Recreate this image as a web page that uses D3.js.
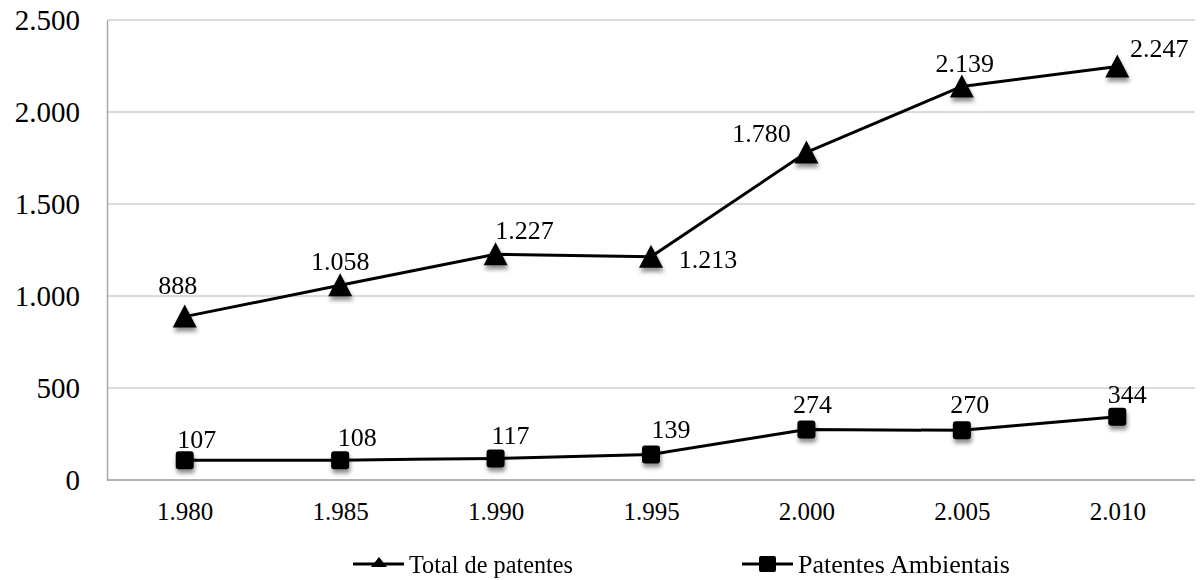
<!DOCTYPE html>
<html>
<head>
<meta charset="utf-8">
<script src="https://cdn.jsdelivr.net/npm/d3@7"></script>
<style>
  html, body { margin: 0; padding: 0; background: #fff; }
  svg { display: block; }
  text { font-family: "Liberation Serif", "Times New Roman", serif; fill: #000; }
</style>
</head>
<body>
<svg id="chart" width="1201" height="580"></svg>
<script>
// ---- data ----
const years = ["1.980", "1.985", "1.990", "1.995", "2.000", "2.005", "2.010"];
const totalPatentes = [888, 1058, 1227, 1213, 1780, 2139, 2247];
const patentesAmbientais = [107, 108, 117, 139, 274, 270, 344];
const yTicks = [0, 500, 1000, 1500, 2000, 2500];
const seriesNames = ["Total de patentes", "Patentes Ambientais"];

// label placement (relative to each marker), kept separate from data
const totalLabelDx = [-7, 0, 29, 57, -45, 3, 42];
const totalLabelDy = [-23, -15, -15, 11, -10, -14, -10];
const ambLabelDx = [12, 17, 15, 20, 6, 8, 10];
const ambLabelDy = [-12, -14, -14, -16, -17, -17, -14];

const fmt = d3.formatLocale({ decimal: ",", thousands: ".", grouping: [3], currency: ["", ""] }).format(",d");

const svg = d3.select("#chart");
const margin = { left: 107, right: 6, top: 20, bottom: 100 };
const W = 1201, H = 580;
const x = d3.scalePoint().domain(years).range([margin.left, W - margin.right]).padding(0.5);
const y = d3.scaleLinear().domain([0, 2500]).range([H - margin.bottom, margin.top]);

// shadow filter
const defs = svg.append("defs");
const f = defs.append("filter").attr("id", "shadow").attr("x", "-50%").attr("y", "-50%").attr("width", "200%").attr("height", "200%");
f.append("feDropShadow").attr("dx", 1).attr("dy", 4).attr("stdDeviation", 2.2)
  .attr("flood-color", "#000").attr("flood-opacity", 0.45);

// gridlines
svg.append("g")
  .selectAll("line").data(yTicks.filter(d => d > 0)).join("line")
  .attr("x1", margin.left).attr("x2", W - margin.right)
  .attr("y1", d => y(d)).attr("y2", d => y(d))
  .attr("stroke", "#cfcfcf").attr("stroke-width", 1.5);

// y axis
const yAxis = svg.append("g").attr("transform", `translate(${margin.left},0)`)
  .call(d3.axisLeft(y).tickValues(yTicks).tickSize(0).tickPadding(27).tickFormat(d => fmt(d)));
yAxis.select(".domain").attr("stroke", "#a8a8a8").attr("stroke-width", 1.5);
yAxis.selectAll("text").attr("font-size", 29).attr("font-family", "Liberation Serif").attr("dy", "0.34em");

// x axis
const xAxis = svg.append("g").attr("transform", `translate(0,${y(0)})`)
  .call(d3.axisBottom(x).tickSize(0).tickPadding(22));
xAxis.select(".domain").attr("stroke", "#9a9a9a").attr("stroke-width", 1.5)
  .attr("d", `M${margin.left},0H${W - margin.right}`);
xAxis.selectAll("text").attr("font-size", 25).attr("font-family", "Liberation Serif").attr("dy", "0.71em");

const line = d3.line().x((d, i) => x(years[i])).y(d => y(d));

function drawSeries(vals, shape, dxs, dys) {
  const g = svg.append("g");
  g.append("path").datum(vals).attr("d", line)
    .attr("fill", "none").attr("stroke", "#000").attr("stroke-width", 3).attr("stroke-linejoin", "round");
  const m = g.append("g").attr("filter", "url(#shadow)");
  if (shape === "triangle") {
    m.selectAll("path").data(vals).join("path")
      .attr("transform", (d, i) => `translate(${x(years[i])},${y(d)})`)
      .attr("d", "M0,-12L12,11L-12,11Z").attr("fill", "#000");
  } else {
    m.selectAll("rect").data(vals).join("rect")
      .attr("x", (d, i) => x(years[i]) - 9).attr("y", d => y(d) - 9)
      .attr("width", 18).attr("height", 18).attr("rx", 3).attr("fill", "#000");
  }
  g.selectAll("text.lbl").data(vals).join("text").attr("class", "lbl")
    .attr("x", (d, i) => x(years[i]) + dxs[i])
    .attr("y", (d, i) => y(d) + dys[i])
    .attr("text-anchor", "middle").attr("font-size", 26)
    .text(d => fmt(d));
}
drawSeries(totalPatentes, "triangle", totalLabelDx, totalLabelDy);
drawSeries(patentesAmbientais, "square", ambLabelDx, ambLabelDy);

// legend
const legend = svg.append("g");
const legendItems = [
  { name: seriesNames[0], shape: "triangle", x: 353, textLen: 164 },
  { name: seriesNames[1], shape: "square", x: 742, textLen: 212 }
];
const ly = 564;
legendItems.forEach(it => {
  const g = legend.append("g");
  g.append("line").attr("x1", it.x).attr("x2", it.x + 51).attr("y1", ly).attr("y2", ly)
    .attr("stroke", "#000").attr("stroke-width", 3);
  if (it.shape === "triangle") {
    g.append("path").attr("transform", `translate(${it.x + 26},${ly})`)
      .attr("d", "M0,-7L8,3L-8,3Z").attr("fill", "#000");
  } else {
    g.append("rect").attr("x", it.x + 17).attr("y", ly - 8).attr("width", 17).attr("height", 16)
      .attr("rx", 2).attr("fill", "#000");
  }
  g.append("text").attr("x", it.x + 56).attr("y", ly + 9).attr("font-size", 26)
    .attr("textLength", it.textLen).attr("lengthAdjust", "spacingAndGlyphs")
    .text(it.name);
});
</script>
</body>
</html>
